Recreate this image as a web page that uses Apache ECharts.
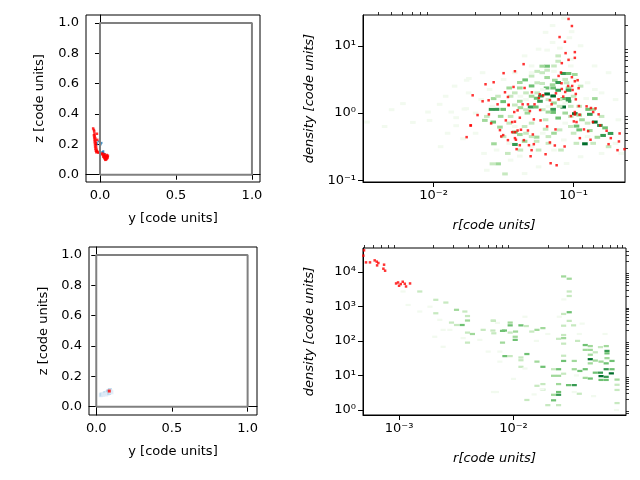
<!DOCTYPE html>
<html lang="en">

<head>
    <meta charset="UTF-8">
    <title>density profiles</title>
    <style>
        html, body { margin: 0; padding: 0; background: #fff; }
        #box { width: 640px; height: 480px; }
    </style>
    <script src="https://cdn.jsdelivr.net/npm/echarts@6.0.0/dist/echarts.min.js"></script>
</head>

<body>
    <div id="box"></div>
    <script>
        // box outline (left panels)
        const boxY = [0, 1, 1, 0, 0]
        const boxZ = [0, 0, 1, 1, 0]

        // top-left: particle positions
        const tlRed = [
            [-0.045, 0.305], [-0.040, 0.295], [-0.038, 0.285], [-0.036, 0.270], [-0.040, 0.260], [-0.034, 0.255],
            [-0.038, 0.245], [-0.031, 0.240], [-0.036, 0.230], [-0.030, 0.225], [-0.035, 0.215], [-0.028, 0.210],
            [-0.033, 0.200], [-0.027, 0.195], [-0.032, 0.185], [-0.025, 0.180], [-0.030, 0.170], [-0.022, 0.165],
            [-0.027, 0.158], [-0.020, 0.155], [-0.024, 0.148], [-0.015, 0.150], [-0.010, 0.145], [-0.020, 0.270],
            [-0.018, 0.230], [0.015, 0.140], [0.020, 0.130], [0.025, 0.125], [0.030, 0.120], [0.035, 0.125],
            [0.040, 0.118], [0.045, 0.120], [0.050, 0.115], [0.028, 0.110], [0.033, 0.105], [0.038, 0.110],
            [0.043, 0.105], [0.048, 0.110], [0.035, 0.098], [0.040, 0.100], [0.022, 0.118], [0.010, 0.135],
            [0.052, 0.125], [0.045, 0.130], [0.030, 0.135]
        ]
        const tlBlue = [
            [-0.022, 0.210], [-0.018, 0.200], [0.005, 0.200], [0.010, 0.210], [0.015, 0.150],
            [0.020, 0.145], [0.025, 0.140], [0.030, 0.135], [0.022, 0.155], [-0.010, 0.220]
        ]

        // bottom-left
        const blBlue = [
            [0.030, 0.075, 1], [0.035, 0.080, 2], [0.050, 0.085, 1], [0.060, 0.090, 2], [0.070, 0.095, 1],
            [0.080, 0.100, 3], [0.090, 0.110, 2], [0.075, 0.085, 1], [0.065, 0.080, 1], [0.085, 0.090, 2],
            [0.095, 0.100, 1], [0.100, 0.095, 1], [0.045, 0.078, 1]
        ]
        const blRed = [[0.086, 0.103]]

        // top-right: 2d histogram cells, [log10 r, log10 density, level]
        const trCells = [
            [-1.069, 1.41, 1], [-1.014, 1.21, 1], [-1.098, 0.966, 1], [-1.03, 1.12, 1], [-1.11, 0.85, 2], [-1.189, 0.936, 1],
            [-1.189, 0.697, 4], [-1.224, 0.697, 3], [-1.11, 0.77, 2], [-1.189, 0.637, 2], [-1.224, 0.6, 2], [-1.189, 0.528, 3],
            [-1.346, 0.493, 4], [-1.30, 0.403, 4], [-1.384, 0.454, 3], [-1.074, 0.588, 5], [-1.036, 0.588, 4], [-0.991, 0.573, 3],
            [-1.134, 0.488, 3], [-1.11, 0.454, 5], [-1.15, 0.42, 3], [-1.224, 0.44, 2], [-1.46, 0.373, 3], [-1.384, 0.373, 3],
            [-1.193, 0.373, 4], [-1.146, 0.373, 4], [-1.036, 0.373, 3], [-1.11, 0.339, 5], [-1.036, 0.339, 5], [-1.189, 0.284, 6],
            [-1.146, 0.254, 6], [-1.234, 0.254, 5], [-1.264, 0.22, 4], [-1.039, 0.215, 5], [-1.036, 0.175, 5], [-1.074, 0.215, 4],
            [-1.503, 0.17, 4], [-1.571, 0.215, 3], [-1.24, 0.175, 5], [-1.384, 0.175, 3], [-0.848, 0.215, 3], [-0.91, 0.215, 1],
            [-0.848, 0.35, 1], [-1.586, 0.055, 5], [-1.55, 0.055, 5], [-1.503, 0.055, 4], [-1.307, 0.09, 5], [-1.27, 0.09, 4],
            [-1.146, 0.055, 5], [-1.074, 0.09, 6], [-1.146, 0.01, 4], [-1.18, 0.015, 3], [-1.11, -0.074, 4], [-0.991, -0.01, 6],
            [-0.896, 0.055, 4], [-0.86, 0.055, 3], [-0.96, 0.1, 2], [-0.884, -0.019, 5], [-0.96, -0.03, 3], [-0.848, -0.134, 6],
            [-0.812, -0.184, 5], [-0.775, -0.22, 4], [-0.789, -0.333, 5], [-0.736, -0.303, 5], [-0.919, -0.457, 6], [-0.979, -0.194, 4],
            [-0.96, -0.25, 4], [-0.884, -0.26, 3], [-0.83, -0.36, 3], [-1.521, -0.049, 3], [-1.634, -0.109, 3], [-1.574, -0.134, 4],
            [-1.526, -0.209, 3], [-1.419, -0.284, 4], [-1.384, -0.32, 3], [-1.264, -0.358, 3], [-1.35, -0.42, 3], [-1.264, -0.42, 2],
            [-1.569, -0.457, 3], [-1.419, -0.467, 5], [-1.2, -0.24, 2], [-1.7, 0.0, 1], [-1.78, 0.06, 1], [-1.539, -0.755, 3],
            [-1.58, -0.755, 2], [-1.49, -0.905, 2], [-1.25, -0.55, 2], [-1.09, -0.55, 2], [-1.384, -0.64, 1], [-2.219, 0.14, 1],
            [-2.04, 0.015, 1], [-1.957, 0.13, 1], [-1.914, 0.25, 1], [-2.148, -0.139, 1], [-2.029, -0.109, 1], [-1.874, 0.015, 1],
            [-1.839, -0.069, 1], [-1.79, -0.382, 1], [-1.839, -0.188, 1], [-1.767, 0.065, 1], [-1.748, 0.513, 1], [-2.476, -0.134, 1],
            [-1.764, 0.488, 1], [-1.3, -0.15, 2], [-1.33, 0.0, 3], [-1.45, -0.05, 2], [-1.0, -0.3, 2], [-1.07, -0.4, 1],
            [-0.7, -0.45, 1], [-1.6, 0.35, 1], [-1.42, 0.6, 1], [-1.3, 0.7, 1], [-1.02, 0.8, 1], [-0.9, 0.45, 1],
            [-1.7, -0.3, 1], [-1.64, -0.6, 1], [-1.9, -0.3, 1], [-1.95, -0.5, 1], [-2.3, 0.05, 1], [-2.6, 0.1, 1],
            [-2.35, -0.2, 1], [-1.2, 1.2, 1], [-1.15, 1.3, 1], [-0.95, 1.0, 1], [-0.75, 0.6, 1], [-0.7, 0.2, 1],
            [-0.68, -0.1, 1], [-0.66, -0.6, 1], [-0.8, -0.6, 1], [-0.95, -0.65, 1], [-1.05, -0.75, 1], [-1.25, -0.8, 1],
            [-1.35, -0.9, 1], [-1.45, -0.7, 1], [-1.55, -0.55, 1], [-1.62, -0.85, 1], [-1.75, 0.3, 1], [-1.85, 0.4, 1],
            [-1.65, 0.6, 1], [-1.5, 0.5, 1], [-1.35, 0.85, 1], [-1.25, 0.95, 1], [-1.15, 1.05, 1], [-0.85, 0.7, 1],
            [-0.8, 0.3, 1], [-1.45, 0.25, 2], [-1.35, -0.2, 2], [-1.2, -0.1, 2], [-1.0, 0.25, 2], [-0.95, 0.4, 2],
            [-1.05, 0.45, 2], [-0.8, -0.05, 2], [-0.75, -0.5, 2], [-1.3, 0.55, 2], [-1.47, -0.6, 2],
            [-1.42, 0.3, 2], [-1.38, 0.25, 1], [-1.34, 0.3, 2], [-1.3, 0.25, 3], [-1.26, 0.3, 2], [-1.22, 0.35, 1],
            [-1.18, 0.2, 2], [-1.14, 0.15, 3], [-1.1, 0.2, 2], [-1.06, 0.15, 1], [-1.02, 0.1, 2], [-1.34, 0.2, 1],
            [-1.42, 0.12, 2], [-1.38, 0.08, 3], [-1.34, 0.05, 2], [-1.22, 0.05, 2], [-1.18, 0.1, 1], [-1.1, 0.1, 2],
            [-1.06, 0.0, 3], [-1.02, -0.05, 2], [-0.94, -0.1, 3], [-0.9, -0.15, 2], [-1.46, -0.15, 2], [-1.42, -0.2, 1],
            [-1.34, -0.3, 2], [-1.3, -0.35, 2], [-1.22, -0.3, 1], [-1.18, -0.35, 2], [-1.14, -0.3, 3], [-1.1, -0.25, 2],
            [-1.06, -0.15, 1], [-1.02, -0.2, 2], [-1.5, -0.35, 2], [-1.46, -0.45, 1], [-1.38, -0.55, 2], [-1.3, -0.5, 1],
            [-1.18, -0.45, 2], [-1.14, -0.55, 1], [-0.98, -0.45, 2], [-0.9, -0.35, 1], [-0.86, -0.45, 2], [-1.26, 0.45, 2],
            [-1.3, 0.6, 1], [-1.26, 0.62, 2], [-1.14, 0.62, 1], [-1.06, 0.5, 2], [-1.02, 0.7, 1], [-1.14, 0.7, 2],
            [-0.98, 0.5, 1], [-1.54, 0.25, 2], [-1.58, 0.1, 1], [-1.62, -0.05, 2], [-1.66, 0.2, 1]
        ]
        // top-right: dense particles, [log10 r, log10 density]
        const trRed = [
            [-1.036, 1.399], [-1.012, 1.294], [-1.10, 1.13], [-1.062, 1.06], [-1.057, 0.891], [-0.991, 0.906],
            [-1.036, 0.791], [-0.991, 0.821], [-1.084, 0.742], [-1.357, 0.727], [-1.50, 0.593], [-1.419, 0.622],
            [-1.107, 0.552], [-1.09, 0.603], [-1.012, 0.533], [-0.971, 0.488], [-0.991, 0.473], [-1.086, 0.443],
            [-1.629, 0.428], [-1.571, 0.458], [-1.429, 0.388], [-1.35, 0.373], [-1.039, 0.403], [-1.01, 0.403],
            [-0.964, 0.369], [-1.007, 0.343], [-1.49, 0.309], [-1.298, 0.309], [-1.084, 0.358], [-1.06, 0.313],
            [-0.984, 0.284], [-1.721, 0.264], [-1.469, 0.239], [-1.241, 0.279], [-1.217, 0.264], [-1.126, 0.294],
            [-1.248, 0.224], [-1.169, 0.19], [-1.107, 0.204], [-1.074, 0.245], [-0.984, 0.204], [-1.65, 0.175],
            [-1.607, 0.19], [-1.543, 0.13], [-1.464, 0.125], [-1.364, 0.13], [-1.326, 0.13], [-1.279, 0.13],
            [-1.157, 0.13], [-1.464, 0.115], [-1.312, 0.03], [-1.239, 0.045], [-1.424, 0.015], [-1.40, 0.04],
            [-1.686, -0.03], [-1.605, -0.019], [-0.962, 0.104], [-0.907, 0.1], [-0.876, 0.075], [-0.843, 0.07],
            [-0.86, 0.015], [-0.821, -0.019], [-0.991, 0.015], [-1.019, -0.045], [-0.991, -0.02], [-0.957, -0.024],
            [-1.484, -0.109], [-1.439, -0.134], [-1.419, -0.128], [-1.384, -0.069], [-1.284, -0.094], [-1.236, -0.109],
            [-1.589, -0.154], [-1.734, -0.184], [-0.998, -0.124], [-0.979, -0.134], [-0.862, -0.134], [-0.81, -0.184],
            [-1.189, -0.199], [-1.526, -0.254], [-1.439, -0.284], [-1.419, -0.284], [-1.40, -0.259], [-1.376, -0.248],
            [-1.326, -0.259], [-1.291, -0.318], [-1.129, -0.243], [-0.926, -0.243], [-0.896, -0.269], [-0.764, -0.263],
            [-1.503, -0.328], [-1.517, -0.348], [-1.419, -0.373], [-1.412, -0.397], [-1.469, -0.403], [-1.355, -0.403],
            [-0.955, -0.373], [-0.879, -0.397], [-0.734, -0.373], [-0.671, -0.303], [-0.676, -0.422], [-1.169, -0.437],
            [-1.384, -0.478], [-1.319, -0.478], [-1.284, -0.463], [-1.134, -0.482], [-1.064, -0.497], [-0.75, -0.463],
            [-1.407, -0.537], [-1.30, -0.552], [-1.20, -0.612], [-0.686, -0.552], [-0.636, -0.537], [-1.307, -0.642],
            [-1.164, -0.746], [-1.121, -0.776], [-1.764, -0.358], [-1.736, -0.184]
        ]

        // bottom-right: 2d histogram cells, [log10 r, log10 density, level]
        const brCells = [
            [-2.819, 3.43, 2], [-2.679, 3.19, 2], [-2.591, 3.11, 2], [-2.498, 2.90, 3], [-2.425, 2.85, 2], [-2.402, 2.72, 2],
            [-2.402, 2.59, 3], [-2.449, 2.46, 4], [-2.498, 2.46, 2], [-2.542, 2.53, 2], [-2.679, 2.80, 2], [-2.178, 2.59, 2],
            [-2.14, 2.52, 1], [-2.265, 2.32, 2], [-2.18, 2.30, 2], [-2.402, 2.24, 2], [-2.359, 2.20, 3], [-2.402, 1.95, 2],
            [-2.096, 2.29, 4], [-2.096, 1.95, 3], [-2.965, 3.43, 1], [-2.921, 3.04, 1], [-2.819, 2.85, 1], [-2.73, 2.99, 1],
            [-2.644, 2.61, 1], [-2.615, 2.32, 1], [-2.556, 2.32, 1], [-2.688, 2.12, 1], [-2.615, 1.83, 1], [-2.44, 2.08, 1],
            [-2.294, 2.03, 1], [-2.221, 1.69, 1], [-2.119, 1.69, 1], [-2.149, 0.52, 1], [-2.119, 1.40, 1],
            [-1.562, 3.866, 3], [-1.513, 3.80, 3], [-1.513, 3.43, 2], [-1.513, 3.30, 2], [-1.513, 2.83, 4], [-1.562, 2.78, 2],
            [-1.513, 2.58, 2], [-1.475, 2.45, 2], [-1.562, 2.44, 2], [-2.175, 2.58, 2], [-2.029, 2.53, 3], [-2.029, 2.45, 4],
            [-1.935, 2.45, 4], [-1.888, 2.43, 2], [-2.079, 2.30, 4], [-2.029, 2.24, 2], [-1.982, 2.27, 3], [-1.985, 2.12, 3],
            [-1.985, 2.03, 4], [-2.172, 2.22, 2], [-1.795, 2.32, 3], [-1.743, 2.37, 3], [-1.84, 2.27, 2], [-1.562, 2.17, 2],
            [-1.562, 2.08, 3], [-1.606, 2.06, 2], [-1.562, 1.92, 2], [-1.44, 2.0, 2], [-1.425, 2.2, 1], [-1.373, 1.88, 4],
            [-1.329, 1.85, 3], [-1.373, 1.74, 3], [-1.329, 1.74, 3], [-1.329, 1.60, 3], [-1.285, 1.67, 2], [-1.24, 1.82, 2],
            [-1.189, 1.85, 3], [-1.183, 1.71, 5], [-1.183, 1.64, 4], [-1.183, 1.50, 3], [-1.329, 1.47, 6], [-1.285, 1.43, 3],
            [-1.329, 1.35, 3], [-1.235, 1.40, 3], [-1.19, 1.35, 4], [-1.139, 1.42, 4], [-1.19, 1.18, 5], [-1.139, 1.18, 4],
            [-1.145, 1.06, 6], [-1.24, 1.08, 5], [-1.285, 1.08, 4], [-1.235, 0.98, 6], [-1.19, 0.96, 5], [-1.19, 0.87, 4],
            [-1.235, 0.87, 4], [-1.329, 0.91, 4], [-1.373, 0.93, 3], [-1.095, 0.88, 3], [-1.095, 0.73, 2], [-1.095, 0.58, 2],
            [-1.095, 0.2, 2], [-1.373, 1.18, 4], [-1.42, 1.13, 4], [-1.469, 1.18, 3], [-1.469, 1.42, 3], [-1.562, 1.42, 4],
            [-1.562, 1.57, 2], [-1.606, 1.18, 4], [-1.65, 1.18, 2], [-1.65, 0.99, 3], [-1.606, 0.99, 3], [-1.562, 1.05, 2],
            [-1.743, 1.25, 4], [-1.795, 1.40, 3], [-1.935, 1.25, 2], [-1.935, 1.52, 2], [-1.935, 1.44, 2], [-2.075, 1.56, 4],
            [-2.029, 1.56, 2], [-1.883, 1.62, 4], [-1.606, 0.75, 3], [-1.519, 0.72, 4], [-1.469, 0.72, 5], [-1.606, 0.52, 4],
            [-1.606, 0.44, 5], [-1.65, 0.44, 3], [-1.65, 0.28, 4], [-1.606, 0.14, 2], [-1.70, 0.14, 2], [-1.743, 0.75, 2],
            [-1.795, 0.70, 2], [-1.743, 0.59, 2], [-1.883, 0.29, 2], [-1.82, 0.45, 1], [-1.425, 0.47, 2], [-1.469, 0.52, 1],
            [-2.175, 0.52, 1], [-1.8, 2.0, 1], [-1.7, 2.2, 1], [-1.9, 1.2, 1], [-2.0, 0.9, 1], [-1.75, 0.6, 1],
            [-1.45, 1.0, 1], [-1.3, 0.4, 1], [-1.1, 0.0, 1], [-1.2, 2.2, 1], [-1.4, 2.5, 1], [-1.56, 3.2, 1],
            [-1.6, 2.7, 1], [-1.9, 2.7, 1]
        ]
        const brRed = [
            [-3.306, 4.622], [-3.312, 4.468], [-3.289, 4.273], [-3.254, 4.273], [-3.213, 4.331], [-3.195, 4.294],
            [-3.181, 4.256], [-3.192, 4.186], [-3.131, 4.206], [-3.137, 4.09], [-3.122, 4.032], [-3.026, 3.663],
            [-3.009, 3.692], [-3.0, 3.596], [-2.985, 3.645], [-2.968, 3.712], [-2.95, 3.654], [-2.939, 3.576],
            [-2.904, 3.663]
        ]

        const greens = ['#f2faef', '#c7e9c0', '#a1d99b', '#6fc173', '#379a52', '#006d2c']
        const blues = ['#deebf7', '#b5d4ea', '#7fb5db']

        const FONT = 'DejaVu Sans'
        const sup = { '-': '⁻', '0': '⁰', '1': '¹', '2': '²', '3': '³', '4': '⁴', '5': '⁵' }

        function pow10(a) {
            return a.map(function (p) {
                return [Math.pow(10, p[0]), Math.pow(10, p[1])].concat(p.slice(2))
            })
        }

        // matplotlib-style minor ticks (2..9 x 10^n) inside [lo, hi]
        function minors(lo, hi) {
            let out = []
            for (let e = -5; e <= 5; e++) {
                for (let k = 2; k <= 9; k++) {
                    let v = k * Math.pow(10, e)
                    if (v >= lo && v <= hi) out.push(v)
                }
            }
            return out
        }

        function logLabel(v) {
            let e = String(Math.round(Math.log10(v)))
            return '10' + e.split('').map(function (c) { return sup[c] }).join('')
        }

        function linAxis(gi, min, max, ticks, name, gap) {
            return {
                type: 'value', gridIndex: gi, min: min, max: max,
                name: name, nameLocation: 'middle', nameGap: gap,
                nameTextStyle: { fontFamily: FONT, fontSize: 13, color: '#000' },
                axisLine: { show: true, lineStyle: { color: '#000', width: 1 } },
                axisTick: { show: true, length: 5, customValues: ticks, lineStyle: { color: '#000', width: 1 } },
                axisLabel: { customValues: ticks, fontFamily: FONT, fontSize: 13, color: '#000', margin: 7,
                    formatter: function (v) { return v.toFixed(1) } },
                splitLine: { show: false }
            }
        }

        function logAxis(gi, min, max, ticks, name, gap) {
            return {
                type: 'log', logBase: 10, gridIndex: gi, min: min, max: max,
                name: name, nameLocation: 'middle', nameGap: gap,
                nameTextStyle: { fontFamily: FONT, fontSize: 13, color: '#000', fontStyle: 'italic' },
                axisLine: { show: true, lineStyle: { color: '#000', width: 1 } },
                axisTick: { show: true, length: 5, customValues: ticks, lineStyle: { color: '#000', width: 1 } },
                axisLabel: { customValues: ticks, fontFamily: FONT, fontSize: 13, color: '#000', margin: 7,
                    formatter: logLabel },
                splitLine: { show: false }
            }
        }

        function minorAxis(gi, min, max) {
            return {
                type: 'log', logBase: 10, gridIndex: gi, min: min, max: max,
                axisLine: { show: false },
                axisTick: { show: true, length: 3, customValues: minors(min, max), lineStyle: { color: '#000', width: 0.8 } },
                axisLabel: { show: false },
                splitLine: { show: false }
            }
        }

        function cellSeries(xi, yi, cells, dx, dy) {
            return {
                type: 'custom', xAxisIndex: xi, yAxisIndex: yi, clip: true,
                encode: { x: 0, y: 1 },
                data: pow10(cells),
                renderItem: function (params, api) {
                    let x = api.value(0), y = api.value(1)
                    let fx = Math.pow(10, dx / 2), fy = Math.pow(10, dy / 2)
                    let p0 = api.coord([x / fx, y / fy])
                    let p1 = api.coord([x * fx, y * fy])
                    return {
                        type: 'rect',
                        shape: { x: p0[0], y: p1[1], width: p1[0] - p0[0], height: p0[1] - p1[1] },
                        style: { fill: greens[api.value(2) - 1] }
                    }
                }
            }
        }

        const TR_X = [0.00313, 0.233], TR_Y = [0.0944, 28.7]
        const BR_X = [0.000484, 0.0962], BR_Y = [0.716, 48900]

        var box = document.querySelector('#box')
        const myChart = echarts.init(box, null, { renderer: 'canvas' })

        const gridBase = { show: true, borderColor: '#000', borderWidth: 1, backgroundColor: '#fff' }

        var option = {
            animation: false,
            backgroundColor: '#fff',
            grid: [
                Object.assign({ left: 86, top: 15, width: 174, height: 167 }, gridBase),
                Object.assign({ left: 363, top: 15, width: 262, height: 167 }, gridBase),
                Object.assign({ left: 89, top: 247, width: 168, height: 168 }, gridBase),
                Object.assign({ left: 363, top: 248, width: 263, height: 167 }, gridBase)
            ],
            xAxis: [
                linAxis(0, -0.092, 1.053, [0, 0.5, 1], 'y [code units]', 30),
                logAxis(1, TR_X[0], TR_X[1], [0.01, 0.1], 'r[code units]', 37),
                linAxis(2, -0.048, 1.062, [0, 0.5, 1], 'y [code units]', 30),
                logAxis(3, BR_X[0], BR_X[1], [0.001, 0.01], 'r[code units]', 37),
                minorAxis(1, TR_X[0], TR_X[1]),
                minorAxis(3, BR_X[0], BR_X[1])
            ],
            yAxis: [
                linAxis(0, -0.048, 1.053, [0, 0.2, 0.4, 0.6, 0.8, 1], 'z [code units]', 40),
                logAxis(1, TR_Y[0], TR_Y[1], [0.1, 1, 10], 'density [code units]', 47),
                linAxis(2, -0.055, 1.053, [0, 0.2, 0.4, 0.6, 0.8, 1], 'z [code units]', 39),
                logAxis(3, BR_Y[0], BR_Y[1], [1, 10, 100, 1000, 10000], 'density [code units]', 47),
                minorAxis(1, TR_Y[0], TR_Y[1]),
                minorAxis(3, BR_Y[0], BR_Y[1])
            ],
            series: [
                {
                    type: 'line', xAxisIndex: 0, yAxisIndex: 0, symbol: 'none',
                    data: boxY.map(function (v, i) { return [v, boxZ[i]] }),
                    lineStyle: { color: '#808080', width: 2 }
                },
                {
                    type: 'scatter', xAxisIndex: 0, yAxisIndex: 0, symbol: 'rect', symbolSize: 2,
                    data: tlBlue, itemStyle: { color: '#1f77b4' }
                },
                {
                    type: 'scatter', xAxisIndex: 0, yAxisIndex: 0, symbol: 'rect', symbolSize: 2.5,
                    data: tlRed, itemStyle: { color: '#ff0000' }
                },
                {
                    type: 'line', xAxisIndex: 2, yAxisIndex: 2, symbol: 'none',
                    data: boxY.map(function (v, i) { return [v, boxZ[i]] }),
                    lineStyle: { color: '#808080', width: 2 }
                },
                {
                    type: 'scatter', xAxisIndex: 2, yAxisIndex: 2, symbol: 'rect', symbolSize: 4,
                    data: blBlue,
                    itemStyle: { color: function (p) { return blues[p.value[2] - 1] } }
                },
                {
                    type: 'scatter', xAxisIndex: 2, yAxisIndex: 2, symbol: 'rect', symbolSize: 3,
                    data: blRed, itemStyle: { color: '#ff0000' }
                },
                cellSeries(1, 1, trCells, 0.04, 0.045),
                {
                    type: 'scatter', xAxisIndex: 1, yAxisIndex: 1, symbol: 'rect', symbolSize: 2.5,
                    data: pow10(trRed), itemStyle: { color: '#ff0000' }
                },
                cellSeries(3, 3, brCells, 0.045, 0.065),
                {
                    type: 'scatter', xAxisIndex: 3, yAxisIndex: 3, symbol: 'rect', symbolSize: 2.5,
                    data: pow10(brRed), itemStyle: { color: '#ff0000' }
                }
            ]
        }

        myChart.setOption(option)
    </script>
</body>

</html>
